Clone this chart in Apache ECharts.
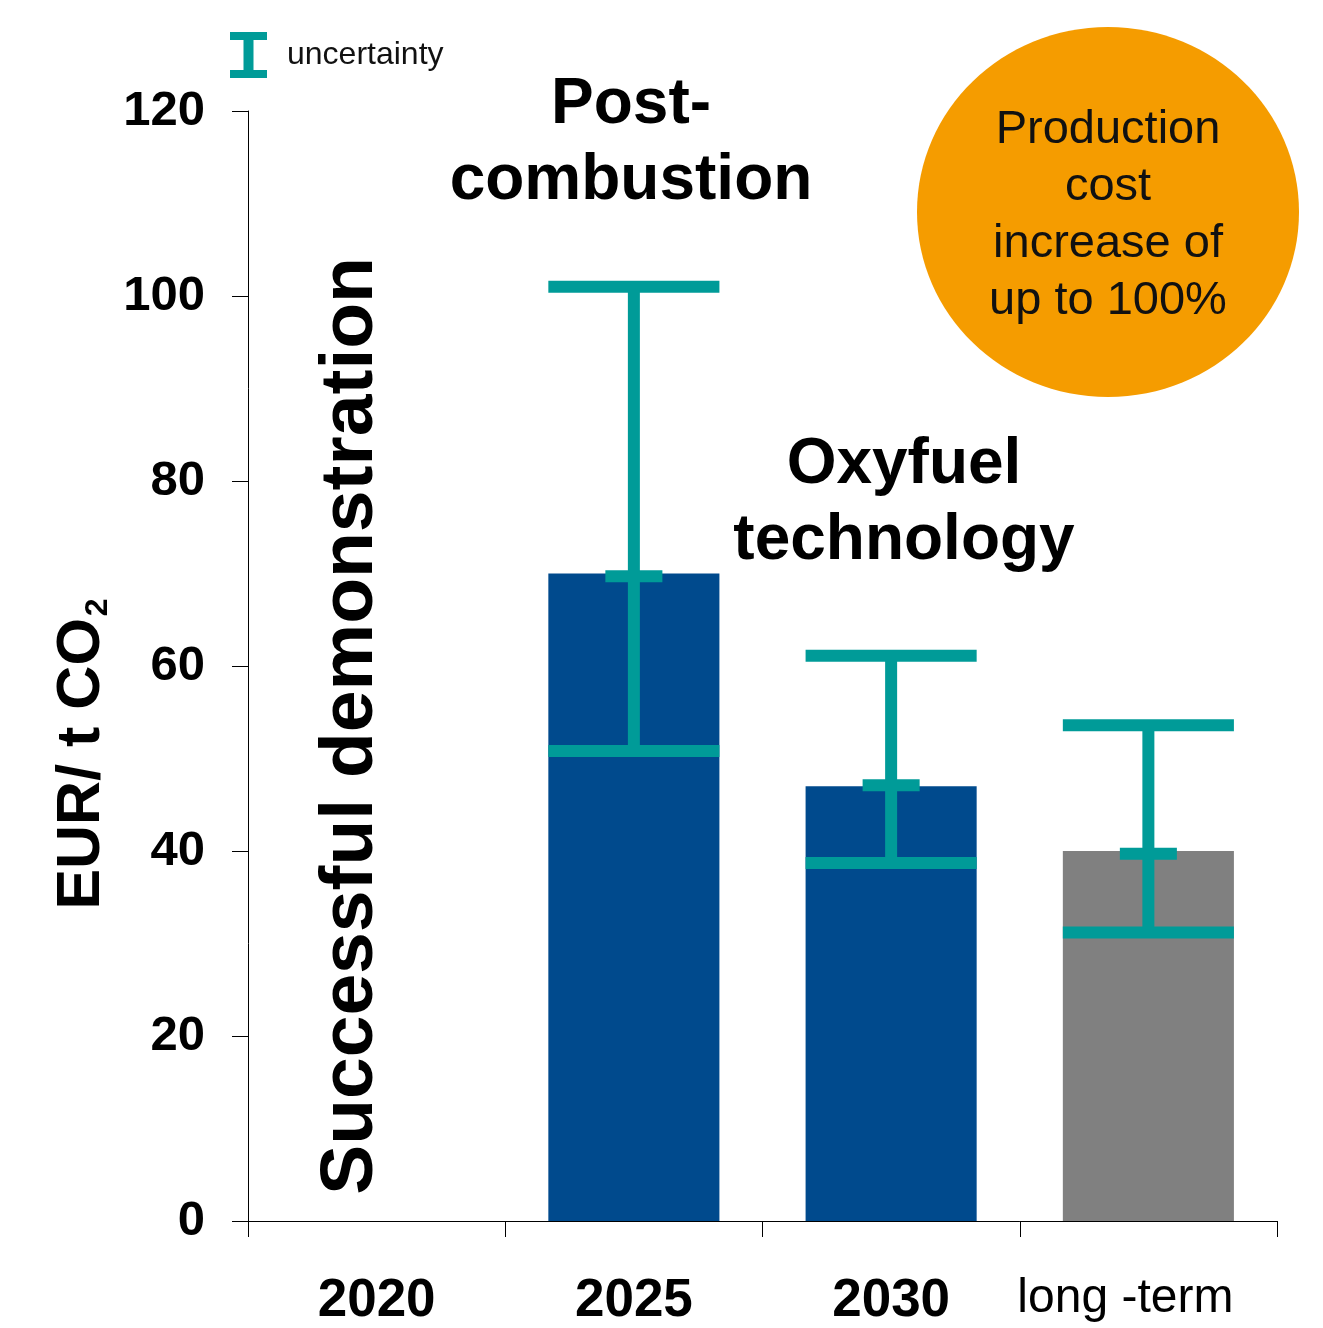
<!DOCTYPE html>
<html>
<head>
<meta charset="utf-8">
<script src="https://cdn.jsdelivr.net/npm/echarts@6/dist/echarts.min.js"></script>
<style>
html,body{margin:0;padding:0;background:#fff;}
#chart{width:1323px;height:1328px;}
</style>
</head>
<body>
<div id="chart"></div>
<script>
const categories = ['2020', '2025', '2030', 'long -term'];
const costValues = [null, 70, 47, 40];
const barColors = ['#004A8D', '#004A8D', '#004A8D', '#808080'];
const errLow = [null, 50.8, 38.7, 31.2];
const errMid = [null, 69.7, 47.1, 39.7];
const errHigh = [null, 101, 61.1, 53.6];
const yTicks = [0, 20, 40, 60, 80, 100, 120];

const FONT = '"Liberation Sans", Arial, Helvetica, sans-serif';
const TEAL = '#009B98';
const BAR_FRAC = 0.665;

const chart = echarts.init(document.getElementById('chart'), null, {renderer: 'canvas'});

const errData = categories.map((c, i) => errHigh[i] == null ? null : [i, errLow[i], errMid[i], errHigh[i]]).filter(d => d);

const option = {
  backgroundColor: '#fff',
  animation: false,
  grid: {left: 248, right: 46, top: 111, bottom: 107, containLabel: false},
  legend: {
    left: 225, top: 27,
    itemWidth: 37, itemHeight: 46, itemGap: 10,
    textStyle: {fontFamily: FONT, fontSize: 32, color: '#111', padding: [6, 0, 0, 15]},
    data: [{name: 'uncertainty', icon: 'path://M0,0H37V8H23.5V38H37V46H0V38H13.5V8H0Z', itemStyle: {color: TEAL}}]
  },
  xAxis: {
    type: 'category',
    data: categories,
    boundaryGap: true,
    axisLine: {show: true, lineStyle: {color: '#000', width: 1}},
    axisTick: {show: true, length: 16, lineStyle: {color: '#000', width: 1}},
    axisLabel: {
      margin: 54,
      formatter: (v, i) => i === 3 ? '{n|' + v + '}' : '{b|' + v + '}',
      rich: {
        b: {fontFamily: FONT, fontSize: 53, fontWeight: 'bold', color: '#000'},
        n: {fontFamily: FONT, fontSize: 48, fontWeight: 'normal', color: '#000', padding: [0, 46, 0, 0]}
      }
    },
    splitLine: {show: false}
  },
  yAxis: {
    type: 'value',
    min: yTicks[0], max: yTicks[yTicks.length - 1], interval: 20,
    axisLine: {show: true, lineStyle: {color: '#000', width: 1}},
    axisTick: {show: true, length: 16, lineStyle: {color: '#000', width: 1}},
    axisLabel: {margin: 43, fontFamily: FONT, fontSize: 49, fontWeight: 'bold', color: '#000', padding: [4, 0, 0, 0]},
    splitLine: {show: false}
  },
  series: [
    {
      type: 'bar',
      name: 'cost',
      barWidth: (BAR_FRAC * 100) + '%',
      data: costValues.map((v, i) => v == null ? null : {value: v, itemStyle: {color: barColors[i]}}),
      silent: true
    },
    {
      type: 'custom',
      name: 'uncertainty',
      itemStyle: {color: TEAL},
      encode: {x: 0, y: [1, 2, 3]},
      data: errData,
      z: 5,
      renderItem: function (params, api) {
        const idx = api.value(0);
        const lo = api.coord([idx, api.value(1)]);
        const mid = api.coord([idx, api.value(2)]);
        const hi = api.coord([idx, api.value(3)]);
        const bw = api.size([1, 0])[0] * BAR_FRAC;
        const t = 12;
        const cx = lo[0];
        const style = {fill: TEAL};
        return {
          type: 'group',
          children: [
            {type: 'rect', shape: {x: cx - t / 2, y: hi[1], width: t, height: lo[1] - hi[1]}, style},
            {type: 'rect', shape: {x: cx - bw / 2, y: hi[1] - t / 2, width: bw, height: t}, style},
            {type: 'rect', shape: {x: cx - bw / 2, y: lo[1] - t / 2, width: bw, height: t}, style},
            {type: 'rect', shape: {x: cx - bw / 6, y: mid[1] - t / 2, width: bw / 3, height: t}, style}
          ]
        };
      }
    }
  ],
  graphic: [
    {
      type: 'text', x: 82, y: 754, rotation: Math.PI / 2,
      style: {
        text: '{a|EUR/ t CO}{s|2}',
        align: 'center', verticalAlign: 'middle',
        rich: {
          a: {fontFamily: FONT, fontSize: 61, fontWeight: 'bold', fill: '#000', lineHeight: 64},
          s: {fontFamily: FONT, fontSize: 32, fontWeight: 'bold', fill: '#000', lineHeight: 64, verticalAlign: 'bottom', padding: [24, 0, 0, 2]}
        }
      }
    },
    {
      type: 'text', x: 351, y: 726, rotation: Math.PI / 2,
      style: {
        text: 'Successful demonstration',
        fontFamily: FONT, fontSize: 75, fontWeight: 'bold', fill: '#000',
        align: 'center', verticalAlign: 'middle'
      }
    },
    {
      type: 'text', x: 631, y: 143,
      style: {
        text: 'Post-\ncombustion',
        fontFamily: FONT, fontSize: 64, fontWeight: 'bold', fill: '#000',
        lineHeight: 76, align: 'center', verticalAlign: 'middle'
      }
    },
    {
      type: 'text', x: 904, y: 503,
      style: {
        text: 'Oxyfuel\ntechnology',
        fontFamily: FONT, fontSize: 64, fontWeight: 'bold', fill: '#000',
        lineHeight: 76, align: 'center', verticalAlign: 'middle'
      }
    },
    {
      type: 'ellipse', z: 10,
      shape: {cx: 1108, cy: 212, rx: 191, ry: 185},
      style: {fill: '#F59C00'}
    },
    {
      type: 'text', x: 1108, y: 216, z: 11,
      style: {
        text: 'Production\ncost\nincrease of\nup to 100%',
        fontFamily: FONT, fontSize: 47, fill: '#111',
        lineHeight: 57, align: 'center', verticalAlign: 'middle'
      }
    }
  ]
};

chart.setOption(option);
</script>
</body>
</html>
